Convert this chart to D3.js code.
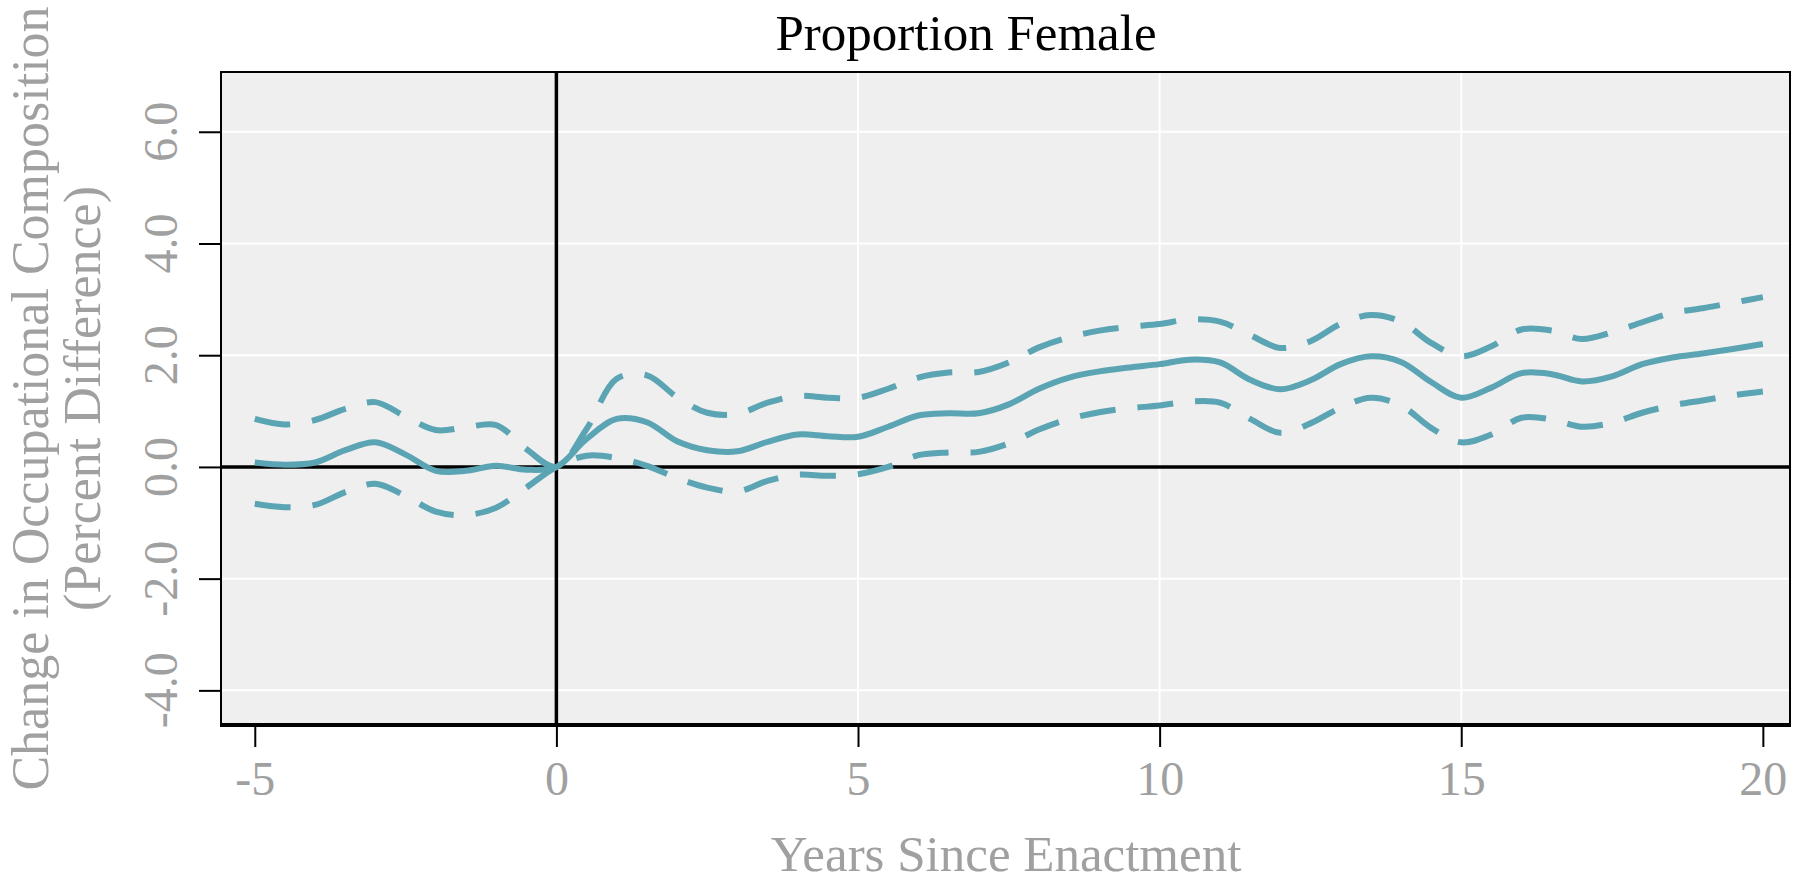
<!DOCTYPE html>
<html>
<head>
<meta charset="utf-8">
<script src="https://cdn.jsdelivr.net/npm/d3@7"></script>
<style>
  html, body { margin: 0; padding: 0; background: #ffffff; }
  svg { display: block; }
  text { font-family: "Liberation Serif", "Times New Roman", serif; }
</style>
</head>
<body>
<svg id="chart" width="1794" height="885"></svg>
<script>
// Event-study estimates: years relative to enactment
const years = d3.range(-5, 20.01, 0.5);

// Point estimate (percent difference)
const estimate = [
  0.08, 0.04, 0.08, 0.30, 0.44, 0.22, -0.07, -0.07, 0.02, -0.05,
  0.00, 0.50, 0.86, 0.80, 0.46, 0.30, 0.28, 0.45, 0.58, 0.55,
  0.54, 0.72, 0.92, 0.96, 0.96, 1.12, 1.40, 1.60, 1.71, 1.78,
  1.84, 1.92, 1.87, 1.56, 1.39, 1.55, 1.84, 1.98, 1.88, 1.52,
  1.24, 1.42, 1.68, 1.66, 1.53, 1.62, 1.84, 1.96, 2.03, 2.11,
  2.20
];

// Upper confidence bound
const upper = [
  0.86, 0.76, 0.84, 1.04, 1.16, 0.90, 0.66, 0.71, 0.75, 0.32,
  0.00, 0.68, 1.58, 1.64, 1.25, 0.97, 0.95, 1.15, 1.27, 1.24,
  1.24, 1.40, 1.60, 1.69, 1.70, 1.87, 2.14, 2.32, 2.44, 2.51,
  2.56, 2.64, 2.60, 2.36, 2.13, 2.25, 2.56, 2.72, 2.60, 2.22,
  1.98, 2.16, 2.46, 2.44, 2.29, 2.41, 2.59, 2.76, 2.84, 2.94,
  3.04
];

// Lower confidence bound
const lower = [
  -0.66, -0.72, -0.68, -0.45, -0.30, -0.52, -0.80, -0.86, -0.73, -0.37,
   0.00,  0.20,  0.16,  0.02, -0.20, -0.37, -0.44, -0.25, -0.14, -0.16,
  -0.13,  0.00,  0.21,  0.26,  0.27,  0.42,  0.67,  0.86,  0.98,  1.05,
   1.10,  1.17,  1.15,  0.86,  0.61,  0.78,  1.06,  1.24,  1.10,  0.70,
   0.44,  0.58,  0.88,  0.85,  0.72,  0.79,  0.97,  1.10,  1.19,  1.28,
   1.35
];

const xTicks = [-5, 0, 5, 10, 15, 20];
const yTicks = [-4, -2, 0, 2, 4, 6];
const xGrid = [5, 10, 15];
const yGrid = [-4, -2, 2, 4, 6];

const titleText = "Proportion Female";
const xTitle = "Years Since Enactment";
const yTitleLines = ["Change in Occupational Composition", "(Percent Difference)"];

// Layout of the plotting panel
const panel = { left: 221, right: 1790, top: 72, bottom: 725 };
const lineColor = "#5ba4b4";
const labelGray = "#a0a0a0";

const svg = d3.select("#chart");

const x = d3.scaleLinear().domain([-5.56, 20.45]).range([panel.left, panel.right]);
const y = d3.scaleLinear().domain([-4.62, 7.07]).range([panel.bottom, panel.top]);

// Panel background
svg.append("rect")
  .attr("x", panel.left).attr("y", panel.top)
  .attr("width", panel.right - panel.left)
  .attr("height", panel.bottom - panel.top)
  .attr("fill", "#efefef");

// White grid lines
svg.append("g").selectAll("line.gy").data(yGrid).join("line")
  .attr("x1", panel.left).attr("x2", panel.right)
  .attr("y1", d => y(d)).attr("y2", d => y(d))
  .attr("stroke", "#ffffff").attr("stroke-width", 2);
svg.append("g").selectAll("line.gx").data(xGrid).join("line")
  .attr("y1", panel.top).attr("y2", panel.bottom)
  .attr("x1", d => x(d)).attr("x2", d => x(d))
  .attr("stroke", "#ffffff").attr("stroke-width", 2);

// Reference lines at zero
svg.append("line")
  .attr("x1", panel.left).attr("x2", panel.right)
  .attr("y1", y(0)).attr("y2", y(0))
  .attr("stroke", "#000").attr("stroke-width", 3.5);
svg.append("line")
  .attr("x1", x(0)).attr("x2", x(0))
  .attr("y1", panel.top).attr("y2", panel.bottom)
  .attr("stroke", "#000").attr("stroke-width", 3.5);

// Series lines
const lineGen = vals => d3.line()
  .x((d, i) => x(years[i]))
  .y(d => y(d))
  .curve(d3.curveCatmullRom.alpha(0.5))(vals);

svg.append("path").attr("d", lineGen(upper))
  .attr("fill", "none").attr("stroke", lineColor).attr("stroke-width", 6)
  .attr("stroke-dasharray", "36,22");
svg.append("path").attr("d", lineGen(lower))
  .attr("fill", "none").attr("stroke", lineColor).attr("stroke-width", 6)
  .attr("stroke-dasharray", "36,22");
svg.append("path").attr("d", lineGen(estimate))
  .attr("fill", "none").attr("stroke", lineColor).attr("stroke-width", 6);

// Panel border
svg.append("path")
  .attr("d", `M${panel.left},${panel.bottom}V${panel.top}H${panel.right}V${panel.bottom}`)
  .attr("fill", "none").attr("stroke", "#000").attr("stroke-width", 2);
svg.append("line")
  .attr("x1", panel.left - 1).attr("x2", panel.right + 1)
  .attr("y1", panel.bottom).attr("y2", panel.bottom)
  .attr("stroke", "#000").attr("stroke-width", 4);

// X axis
const xAxis = d3.axisBottom(x).tickValues(xTicks).tickSize(22).tickPadding(14)
  .tickFormat(d3.format("d"));
const gx = svg.append("g").attr("transform", `translate(0,${panel.bottom})`).call(xAxis);
gx.select(".domain").remove();
gx.selectAll(".tick line").attr("stroke", "#000").attr("stroke-width", 2);
gx.selectAll(".tick text")
  .attr("fill", labelGray).attr("font-size", 48)
  .attr("font-family", "Liberation Serif, serif")
  .text(d => d < 0 ? "-" + Math.abs(d) : String(d));

// Y axis with rotated labels
const yAxis = d3.axisLeft(y).tickValues(yTicks).tickSize(22).tickFormat(d => "");
const gy = svg.append("g").attr("transform", `translate(${panel.left},0)`).call(yAxis);
gy.select(".domain").remove();
gy.selectAll(".tick line").attr("stroke", "#000").attr("stroke-width", 2);
svg.append("g").selectAll("text").data(yTicks).join("text")
  .attr("transform", d => `translate(177,${y(d)}) rotate(-90)`)
  .attr("text-anchor", "middle")
  .attr("fill", labelGray).attr("font-size", 48)
  .text(d => (d < 0 ? "-" : "") + Math.abs(d).toFixed(1));

// Titles
svg.append("text")
  .attr("x", 966).attr("y", 50)
  .attr("text-anchor", "middle")
  .attr("fill", "#000").attr("font-size", 51)
  .text(titleText);

svg.append("text")
  .attr("x", 1006).attr("y", 871)
  .attr("text-anchor", "middle")
  .attr("fill", labelGray).attr("font-size", 51)
  .text(xTitle);

const yMid = (panel.top + panel.bottom) / 2;
svg.append("g").selectAll("text").data(yTitleLines).join("text")
  .attr("transform", (d, i) => `translate(${48 + i * 52},${yMid}) rotate(-90)`)
  .attr("text-anchor", "middle")
  .attr("fill", labelGray).attr("font-size", 52)
  .text(d => d);
</script>
</body>
</html>
